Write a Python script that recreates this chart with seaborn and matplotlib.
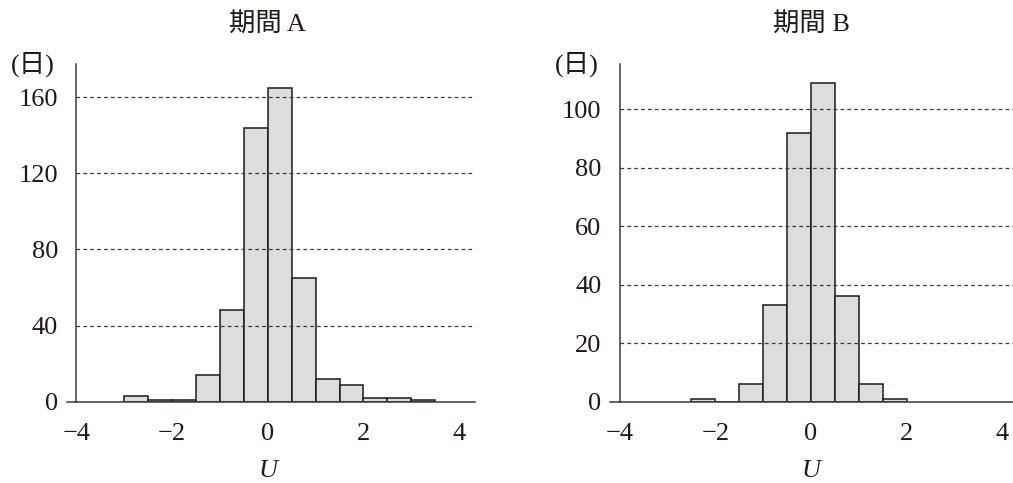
import matplotlib
matplotlib.use("Agg")
import matplotlib.pyplot as plt
import matplotlib.transforms as mtrans
import seaborn as sns

# histogram counts (bin width 0.5)
edges_a = [-3.0, -2.5, -2.0, -1.5, -1.0, -0.5, 0.0, 0.5, 1.0, 1.5, 2.0, 2.5, 3.0, 3.5]
counts_a = [3, 1, 1, 14, 48, 144, 165, 65, 12, 9, 2, 2, 1]
edges_b = [-2.5, -2.0, -1.5, -1.0, -0.5, 0.0, 0.5, 1.0, 1.5, 2.0]
counts_b = [1, 0, 6, 33, 92, 109, 36, 6, 1]

titles = ["期間 A", "期間 B"]
yticks_a = [0, 40, 80, 120, 160]
yticks_b = [0, 20, 40, 60, 80, 100]
xticks = [-4, -2, 0, 2, 4]

sns.set_style("white")
plt.rcParams["font.family"] = ["Liberation Serif", "Noto Sans CJK JP", "DejaVu Sans"]
plt.rcParams["axes.unicode_minus"] = True

ink = "#231815"
face = "#dcdddd"

W, H = 1013, 483
fig = plt.figure(figsize=(W / 100, H / 100), dpi=100)

# axes boxes in pixels: left, bottom, width, height
boxes = [(66.7, 81.3, 408.3, 337.4), (610.0, 81.3, 408.3, 337.4)]
panels = [(edges_a, counts_a, yticks_a, 177.2), (edges_b, counts_b, yticks_b, 115.4)]

for i, ((l, b, w, h), (edges, counts, yt, ytop)) in enumerate(zip(boxes, panels)):
    ax = fig.add_axes([l / W, b / H, w / W, h / H])
    centers = [(edges[k] + edges[k + 1]) / 2 for k in range(len(counts))]
    sns.histplot(x=centers, weights=counts, bins=edges, ax=ax,
                 facecolor=face, edgecolor=ink, linewidth=1.1, alpha=1)
    ax.set_xlim(-4.2, 4.33)
    ax.set_ylim(0, ytop)

    for s in ["top", "right"]:
        ax.spines[s].set_visible(False)
    ax.spines["left"].set_position(("data", -4))
    for s in ["left", "bottom"]:
        ax.spines[s].set_color("#3e3a39")
        ax.spines[s].set_linewidth(1.1)

    ax.hlines(yt[1:], -4, 4.33, colors="#3e3a39", linestyles=(0, (3, 2.5)), linewidth=0.9)

    ax.set_xticks(xticks)
    ax.set_yticks(yt)
    ax.tick_params(axis="both", direction="out", length=7, width=1.1,
                   color="#3e3a39", labelsize=19, labelcolor=ink)
    ax.tick_params(axis="x", pad=8)
    ax.tick_params(axis="y", pad=6)
    ax.set_ylabel("")
    ax.set_xlabel("U", fontsize=19, fontstyle="italic", color=ink)
    ax.xaxis.label.set_va("center")
    ax.xaxis.set_label_coords((0 + 4.2) / 8.53, -0.205)

    tr = mtrans.blended_transform_factory(ax.transData, ax.transAxes)
    ax.text(0, 1.12, titles[i], transform=tr, ha="center", va="center",
            fontsize=19, color=ink)
    ax.text(-4.44, 1.0, "(日)", transform=tr, ha="right", va="center",
            fontsize=19, color=ink)

fig.savefig("out.png", dpi=100)
